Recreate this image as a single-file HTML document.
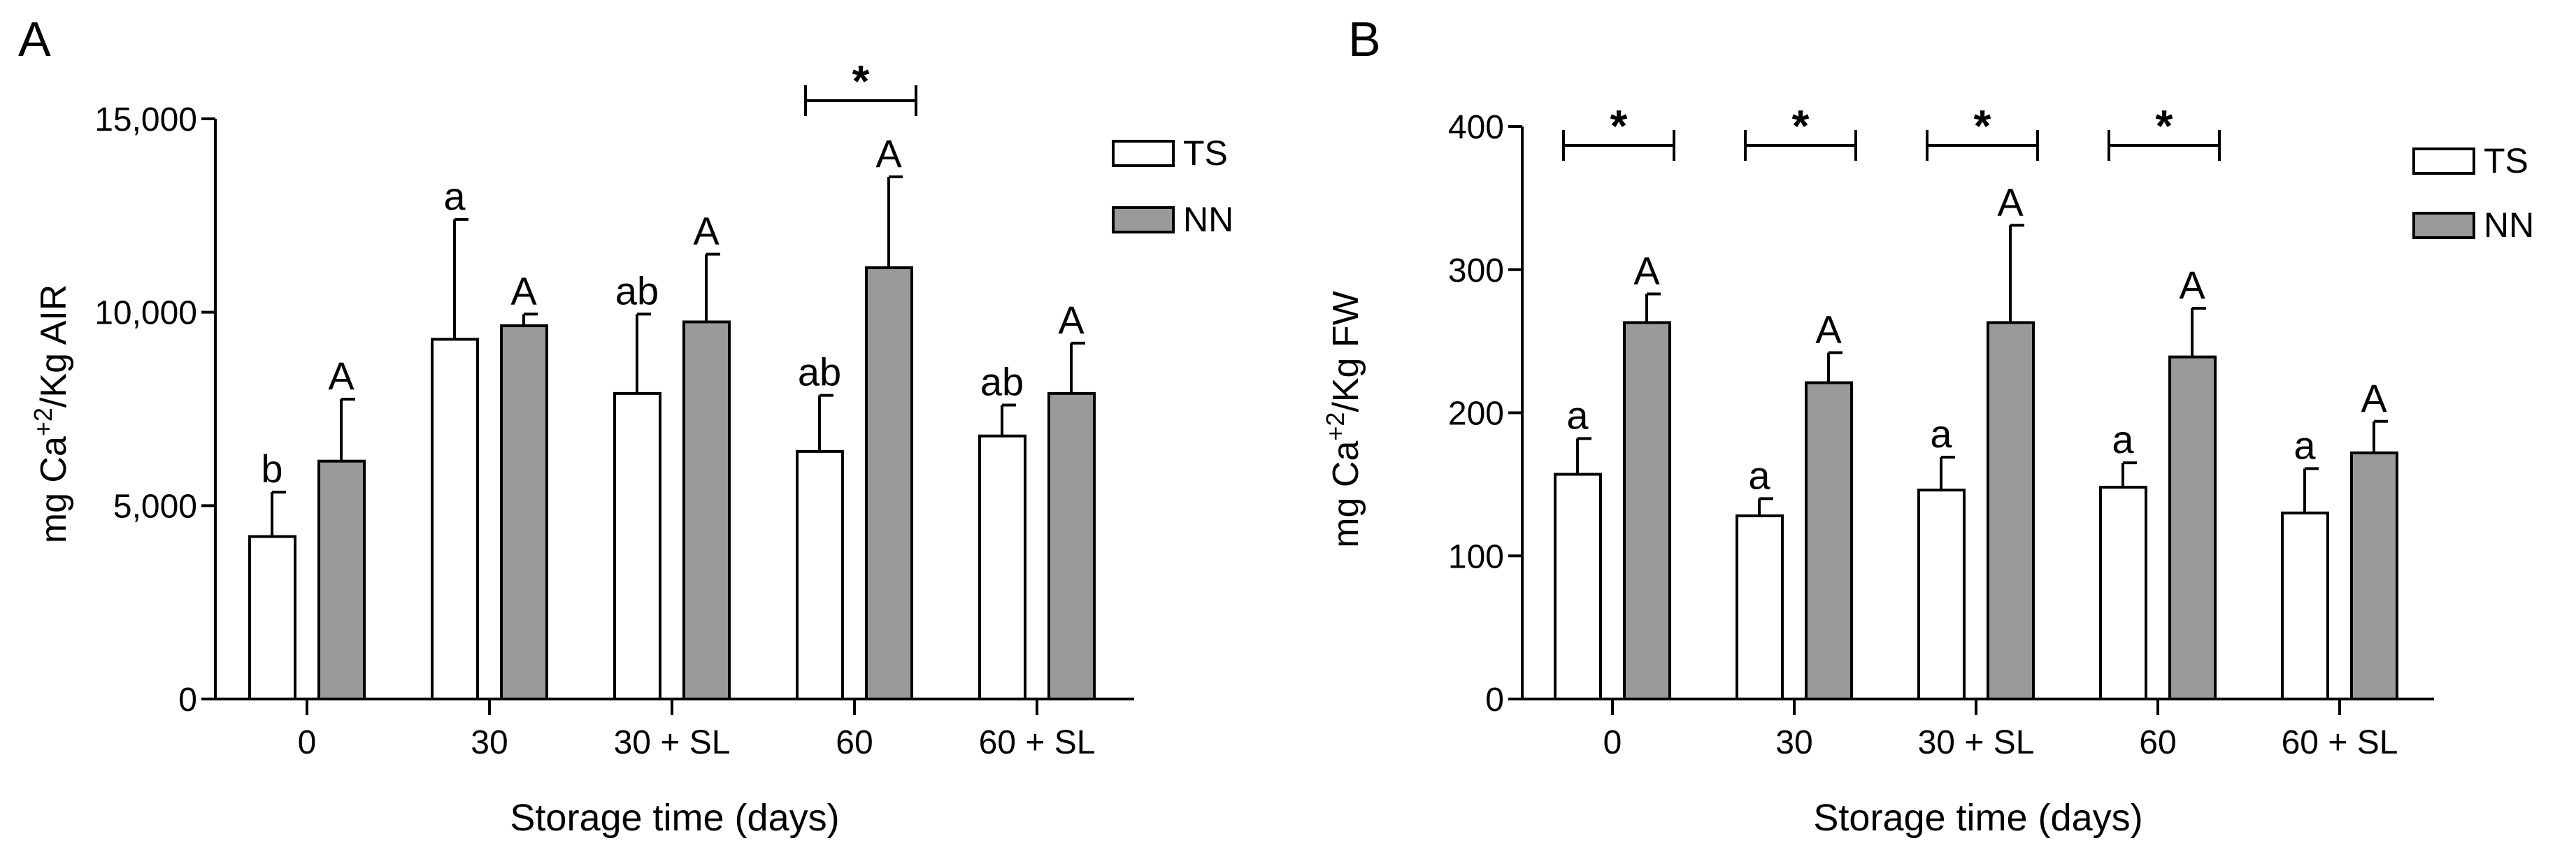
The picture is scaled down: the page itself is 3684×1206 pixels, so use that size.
<!DOCTYPE html>
<html><head><meta charset="utf-8"><style>
html,body{margin:0;padding:0;background:#fff}
svg{display:block;font-family:"Liberation Sans",Arial,sans-serif}
</style></head><body>
<svg id="chart" width="3684" height="1206" viewBox="0 0 3684 1206" xmlns="http://www.w3.org/2000/svg"></svg>
<script>
const categories = ["0","30","30 + SL","60","60 + SL"];
const aTS = [4200, 9300, 7900, 6400, 6800];
const aTSerr = [5350, 12400, 9950, 7850, 7600];
const aNN = [6150, 9650, 9750, 11150, 7900];
const aNNerr = [7750, 9950, 11500, 13500, 9200];
const aTSletters = ["b","a","ab","ab","ab"];
const aNNletters = ["A","A","A","A","A"];
const aTicks = [0, 5000, 10000, 15000];
const aTickLabels = ["0","5,000","10,000","15,000"];
const aSig = [3];
const bTS = [157, 128, 146, 148, 130];
const bTSerr = [182, 140, 169, 165, 161];
const bNN = [263, 221, 263, 239, 172];
const bNNerr = [283, 242, 331, 273, 194];
const bTSletters = ["a","a","a","a","a"];
const bNNletters = ["A","A","A","A","A"];
const bTicks = [0, 100, 200, 300, 400];
const bTickLabels = ["0","100","200","300","400"];
const bSig = [0,1,2,3];

const svg = document.getElementById('chart');
const NS = "http://www.w3.org/2000/svg";
function mk(tag, attrs, parent){
  const e = document.createElementNS(NS, tag);
  for (const k in attrs) e.setAttribute(k, attrs[k]);
  (parent||svg).appendChild(e);
  return e;
}
function panel(p){
  const g = mk('g', {});
  
  
  const y = v => p.y0 - (v / p.ymax) * (p.y0 - p.yTop);
  const cx = i => p.c0 + i * p.step;
  // panel label
  const pl = mk('text', {x:p.labelX, y:80, 'font-size':70}, g);
  pl.textContent = p.label;
  
  
  // axes
  const ya = mk('line', {x1:p.ax, y1:p.yTop, x2:p.ax, y2:p.y0+2, stroke:'#000','stroke-width':4}, g);
  
  
  const xa = mk('line', {x1:p.ax-2, y1:p.y0, x2:p.axEnd, y2:p.y0, stroke:'#000','stroke-width':4}, g);
  
  
  p.ticks.forEach((t, i) => {
    mk('line', {x1:p.ax-20, y1:y(t), x2:p.ax, y2:y(t), stroke:'#000','stroke-width':4}, g);
    const tl = mk('text', {x:p.ax-26, y:y(t)+17, 'font-size':48, 'text-anchor':'end'}, g);
    tl.textContent = p.tickLabels[i];
    
    
  });
  categories.forEach((c, i) => {
    mk('line', {x1:cx(i), y1:p.y0, x2:cx(i), y2:p.y0+23, stroke:'#000','stroke-width':4}, g);
    const tl = mk('text', {x:cx(i), y:p.y0+78, 'font-size':48, 'text-anchor':'middle'}, g);
    tl.textContent = c;
    
    
    const series = [
      {v:p.ts[i], e:p.tsErr[i], l:p.tsL[i], x0:cx(i)-82, fill:'#fff', n:'ts'},
      {v:p.nn[i], e:p.nnErr[i], l:p.nnL[i], x0:cx(i)+17, fill:'#999b9a', n:'nn'}
    ];
    series.forEach(s => {
      const mid = s.x0 + 32;
      const el = mk('line', {x1:mid, y1:y(s.v), x2:mid, y2:y(s.e), stroke:'#000','stroke-width':4}, g);
      
      
      mk('line', {x1:mid, y1:y(s.e), x2:mid+20, y2:y(s.e), stroke:'#000','stroke-width':4}, g);
      const r = mk('rect', {x:s.x0, y:y(s.v), width:65, height:p.y0-y(s.v), fill:s.fill, stroke:'#000','stroke-width':4}, g);
      
      
      const lt = mk('text', {x:mid, y:y(s.e)-14, 'font-size':56, 'text-anchor':'middle'}, g);
      lt.textContent = s.l;
      
      
    });
  });
  p.sig.forEach(i => {
    const x1 = cx(i) - 70, x2 = cx(i) + 88;
    const b = mk('path', {d:`M${x1},${p.sigY-22}V${p.sigY+22}M${x1},${p.sigY}H${x2}M${x2},${p.sigY-22}V${p.sigY+22}`, stroke:'#000','stroke-width':4, fill:'none'}, g);
    
    
    const st = mk('text', {x:(x1+x2)/2, y:p.sigY-6, 'font-size':64, 'font-weight':'bold', 'text-anchor':'middle'}, g);
    st.textContent = '*';
    
    
  });
  // legend
  [['TS','#fff',p.legY1],['NN','#999b9a',p.legY2]].forEach(L => {
    const r = mk('rect', {x:p.legX, y:L[2], width:86, height:35, fill:L[1], stroke:'#000','stroke-width':4}, g);
    
    
    const t = mk('text', {x:p.legX+100, y:L[2]+34, 'font-size':50}, g);
    t.textContent = L[0];
    
    
  });
  // axis titles
  const xt = mk('text', {x:(p.ax+p.axEnd)/2, y:1188, 'font-size':54, 'text-anchor':'middle'}, g);
  xt.textContent = 'Storage time (days)';
  
  
  const yt = mk('text', {x:0, y:0, 'font-size':52, 'text-anchor':'middle', transform:`translate(${p.ylabX},${p.ylabY}) rotate(-90)`}, g);
  yt.innerHTML = 'mg Ca<tspan dy="-20" font-size="36">+2</tspan><tspan dy="20">/Kg ' + p.unit + '</tspan>';
  
  
}
panel({id:'a', label:'A', labelX:26, ax:308, axEnd:1622, y0:1000, yTop:170, ymax:15000, c0:439, step:261,
  ts:aTS, tsErr:aTSerr, nn:aNN, nnErr:aNNerr, tsL:aTSletters, nnL:aNNletters, ticks:aTicks, tickLabels:aTickLabels,
  sig:aSig, sigY:144, legX:1592, legY1:202, legY2:297, ylabX:94, ylabY:592, unit:'AIR'});
panel({id:'b', label:'B', labelX:1928, ax:2177, axEnd:3481, y0:1000, yTop:181, ymax:400, c0:2306, step:260,
  ts:bTS, tsErr:bTSerr, nn:bNN, nnErr:bNNerr, tsL:bTSletters, nnL:bNNletters, ticks:bTicks, tickLabels:bTickLabels,
  sig:bSig, sigY:208, legX:3452, legY1:213, legY2:305, ylabX:1942, ylabY:600, unit:'FW'});
</script>
</body></html>
